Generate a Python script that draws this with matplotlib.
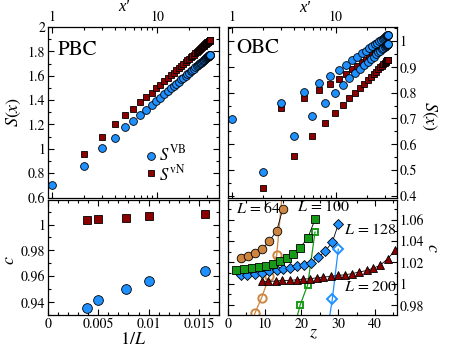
import matplotlib
matplotlib.use("Agg")
import matplotlib.pyplot as plt
from matplotlib.ticker import MultipleLocator, LogLocator, FuncFormatter, NullFormatter

plt.rcParams["font.family"] = "STIXGeneral"
plt.rcParams["mathtext.fontset"] = "stix"

# chord length x' for x = 1..50
xp = [1.000, 1.999, 2.996, 3.989, 4.979, 5.965, 6.944, 7.916, 8.881, 9.836,
      10.782, 11.718, 12.642, 13.553, 14.451, 15.335, 16.203, 17.056, 17.892, 18.710,
      19.510, 20.290, 21.050, 21.790, 22.508, 23.204, 23.877, 24.526, 25.152, 25.752,
      26.327, 26.876, 27.398, 27.894, 28.362, 28.802, 29.213, 29.596, 29.949, 30.273,
      30.567, 30.831, 31.065, 31.267, 31.439, 31.580, 31.690, 31.768, 31.815, 31.831]

# PBC entropies
s_vb_pbc = [0.700, 0.855, 1.010, 1.090, 1.175, 1.225, 1.280, 1.322, 1.359, 1.392,
            1.421, 1.448, 1.472, 1.495, 1.515, 1.534, 1.552, 1.569, 1.584, 1.598,
            1.612, 1.624, 1.636, 1.647, 1.658, 1.668, 1.677, 1.685, 1.693, 1.701,
            1.708, 1.715, 1.721, 1.727, 1.732, 1.737, 1.742, 1.746, 1.750, 1.753,
            1.756, 1.759, 1.761, 1.763, 1.765, 1.767, 1.768, 1.769, 1.769, 1.769]
# starts at x = 2
s_vn_pbc = [0.954, 1.095, 1.200, 1.275, 1.330, 1.385, 1.422, 1.461, 1.495,
            1.526, 1.554, 1.580, 1.603, 1.625, 1.645, 1.663, 1.681, 1.697, 1.712,
            1.726, 1.739, 1.751, 1.763, 1.774, 1.784, 1.794, 1.803, 1.811, 1.819,
            1.827, 1.834, 1.840, 1.846, 1.852, 1.857, 1.862, 1.866, 1.870, 1.874,
            1.877, 1.880, 1.883, 1.885, 1.887, 1.888, 1.889, 1.890, 1.890, 1.891]

# OBC entropies
s_vb_obc = [0.698, 0.493, 0.759, 0.633, 0.801, 0.710, 0.836, 0.759, 0.862, 0.797,
            0.887, 0.828, 0.907, 0.855, 0.924, 0.874, 0.938, 0.891, 0.951, 0.905,
            0.961, 0.918, 0.971, 0.929, 0.979, 0.939, 0.987, 0.947, 0.993, 0.955,
            0.999, 0.962, 1.004, 0.968, 1.008, 0.973, 1.012, 0.977, 1.015, 0.980,
            1.018, 0.983, 1.020, 0.985, 1.021, 0.987, 1.022, 0.988, 1.023, 0.988]
# starts at x = 2
s_vn_obc = [0.431, 0.740, 0.557, 0.778, 0.633, 0.809, 0.683, 0.832, 0.721,
            0.853, 0.752, 0.870, 0.778, 0.889, 0.797, 0.903, 0.817, 0.916, 0.832,
            0.926, 0.847, 0.936, 0.860, 0.944, 0.871, 0.951, 0.881, 0.958, 0.889,
            0.964, 0.897, 0.968, 0.904, 0.973, 0.909, 0.976, 0.914, 0.980, 0.918,
            0.982, 0.922, 0.984, 0.924, 0.986, 0.926, 0.987, 0.927, 0.987, 0.927]

# central charge vs 1/L
inv_L = [0.0039, 0.0050, 0.0078, 0.0100, 0.0156]
c_vn = [1.0033, 1.0040, 1.0054, 1.0064, 1.0080]
c_vb = [0.9357, 0.9419, 0.9502, 0.9564, 0.9640]

# central charge vs z (OBC)
z_64 = [3.46, 5.53, 7.35, 9.17, 11.24, 13.26, 14.89]
c_64 = [1.0245, 1.0262, 1.0285, 1.0325, 1.0400, 1.0500, 1.0700]
z_64_open = [5.53, 7.35, 9.17, 11.24, 13.26, 14.89]
c_64_open = [0.952, 0.9725, 0.987, 1.007, 1.027, 1.090]

z_100 = [2.18, 4.35, 6.45, 8.44, 10.34, 12.33, 14.15, 15.98, 17.77, 19.60, 21.69, 23.68]
c_100 = [1.0132, 1.0137, 1.0147, 1.0156, 1.0166, 1.0188, 1.0213, 1.0245, 1.0282,
         1.0339, 1.0429, 1.0605]
z_100_open = [17.77, 19.60, 21.69, 23.68]
c_100_open = [0.955, 0.9796, 0.999, 1.0486]

z_128 = [3.46, 5.25, 7.35, 9.17, 11.24, 13.26, 15.05, 16.88, 18.86, 20.69, 22.51,
         24.58, 26.40, 28.39, 30.02]
c_128 = [1.0078, 1.0085, 1.0094, 1.0104, 1.0116, 1.0125, 1.0135, 1.0147, 1.0163,
         1.0179, 1.0198, 1.0250, 1.0304, 1.0392, 1.0558]
z_128_open = [26.40, 28.39, 30.02]
c_128_open = [0.940, 0.9855, 1.0325]

z_200 = [9.17, 10.97, 12.98, 14.62, 16.88, 18.70, 20.50, 22.32, 24.14, 25.94,
         28.03, 30.02, 31.85, 33.67, 35.66, 37.75, 39.55, 41.37, 43.47, 45.45]
c_200 = [1.0022, 1.0022, 1.0025, 1.0031, 1.0031, 1.0038, 1.0044, 1.0047, 1.0056,
         1.0063, 1.0069, 1.0078, 1.0085, 1.0094, 1.0110, 1.0125, 1.0147, 1.0172,
         1.0235, 1.0313]

BLUE = "#1e90ff"
RED = "#8b0000"
ORANGE = "#cd853f"
GREEN = "#179a17"

fmt = FuncFormatter(lambda v, p: f"{v:g}")


def style(ax):
    for s in ax.spines.values():
        s.set_linewidth(0.9)
    ax.tick_params(which="both", direction="in", top=True, right=True,
                   bottom=True, left=True, labelsize=10, width=0.8, pad=2)
    ax.tick_params(which="major", length=4)
    ax.tick_params(which="minor", length=2)


def log_x(ax):
    ax.set_xscale("log")
    ax.set_xlim(0.915, 39)
    ax.xaxis.set_major_locator(LogLocator(base=10))
    ax.xaxis.set_minor_locator(LogLocator(base=10, subs=range(2, 10)))
    ax.xaxis.set_major_formatter(fmt)
    ax.xaxis.set_minor_formatter(NullFormatter())
    ax.tick_params(labeltop=True, labelbottom=False)
    ax.set_xlabel("x\u2032", fontsize=12, fontstyle="italic",
                  family=["Liberation Serif", "DejaVu Serif"], ha="center", va="center")
    ax.xaxis.set_label_position("top")


fig = plt.figure(figsize=(4.57, 3.51), dpi=100)
ax1 = fig.add_axes([0.1050, 0.4373, 0.3742, 0.4858])
ax2 = fig.add_axes([0.4989, 0.4373, 0.3698, 0.4858])
ax3 = fig.add_axes([0.1050, 0.1026, 0.3742, 0.3276])
ax4 = fig.add_axes([0.4989, 0.1026, 0.3698, 0.3276])
for ax in (ax1, ax2, ax3, ax4):
    style(ax)

circ = dict(marker="o", ls="none", ms=5.6, mec="black", mew=0.6, mfc=BLUE, clip_on=False)
sq = dict(marker="s", ls="none", ms=4.8, mec="black", mew=0.6, mfc=RED, clip_on=False)

# --- PBC
log_x(ax1)
ax1.plot(xp[1:], s_vn_pbc, **sq)
ax1.plot(xp, s_vb_pbc, **circ)
ax1.set_ylim(0.6, 2.0)
ax1.yaxis.set_major_locator(MultipleLocator(0.2))
ax1.yaxis.set_minor_locator(MultipleLocator(0.1))
ax1.yaxis.set_major_formatter(fmt)
ax1.set_ylabel(r"$S(x)$", fontsize=13, ha="center", va="center")
ax1.yaxis.set_label_coords(-0.2, 0.5)
ax1.xaxis.set_label_coords(0.44, 1.092)
ax1.text(0.058, 0.865, "PBC", transform=ax1.transAxes, fontsize=15, va="center")
ax1.plot([0.602], [0.245], transform=ax1.transAxes, **circ)
ax1.plot([0.602], [0.142], transform=ax1.transAxes, **sq)
ax1.text(0.65, 0.25, r"$S^{\mathrm{VB}}$", transform=ax1.transAxes, fontsize=12, va="center")
ax1.text(0.65, 0.135, r"$S^{\mathrm{vN}}$", transform=ax1.transAxes, fontsize=12, va="center")

# --- OBC
log_x(ax2)
ax2.plot(xp[1:], s_vn_obc, **sq)
ax2.plot(xp, s_vb_obc, **circ)
ax2.set_ylim(0.395, 1.053)
ax2.yaxis.set_major_locator(MultipleLocator(0.1))
ax2.yaxis.set_minor_locator(MultipleLocator(0.05))
ax2.yaxis.set_major_formatter(fmt)
ax2.tick_params(labelleft=False, labelright=True)
ax2.yaxis.set_label_position("right")
ax2.set_ylabel(r"$S(x)$", fontsize=13, rotation=-90, ha="center", va="center")
ax2.yaxis.set_label_coords(1.19, 0.48)
ax2.xaxis.set_label_coords(0.456, 1.085)
ax2.text(0.051, 0.877, "OBC", transform=ax2.transAxes, fontsize=15, va="center")

# --- c vs 1/L
ax3.plot(inv_L, c_vn, marker="s", ls="none", ms=6, mec="black", mew=0.6, mfc=RED)
ax3.plot(inv_L, c_vb, marker="o", ls="none", ms=7, mec="black", mew=0.6, mfc=BLUE)
ax3.set_xlim(0, 0.017)
ax3.set_ylim(0.93, 1.019)
ax3.xaxis.set_major_locator(MultipleLocator(0.005))
ax3.xaxis.set_minor_locator(MultipleLocator(0.001))
ax3.yaxis.set_major_locator(MultipleLocator(0.02))
ax3.yaxis.set_minor_locator(MultipleLocator(0.01))
ax3.xaxis.set_major_formatter(fmt)
ax3.yaxis.set_major_formatter(fmt)
ax3.set_xlabel(r"$1/L$", fontsize=13, ha="center", va="center")
ax3.xaxis.set_label_coords(0.497, -0.22)
ax3.set_ylabel(r"$c$", fontsize=13, ha="center", va="center")
ax3.yaxis.set_label_coords(-0.22, 0.48)

# --- c vs z
ax4.plot(z_64_open, c_64_open, marker="o", color=ORANGE, mfc="none", mew=1.4, ms=6, lw=0.9)
ax4.plot(z_100_open, c_100_open, marker="s", color=GREEN, mfc="none", mew=1.4, ms=5, lw=0.9)
ax4.plot(z_128_open, c_128_open, marker="D", color=BLUE, mfc="none", mew=1.4, ms=5, lw=0.9)
filled_kw = dict(color="black", lw=0.6, mec="black", mew=0.6)
ax4.plot(z_200, c_200, marker="^", ms=6, mfc=RED, **filled_kw)
ax4.plot(z_128, c_128, marker="D", ms=4.6, mfc=BLUE, **filled_kw)
ax4.plot(z_100, c_100, marker="s", ms=5.2, mfc=GREEN, **filled_kw)
ax4.plot(z_64, c_64, marker="o", ms=6.2, mfc=ORANGE, **filled_kw)
ax4.set_xlim(0, 46)
ax4.set_ylim(0.9706, 1.0788)
ax4.xaxis.set_major_locator(MultipleLocator(10))
ax4.xaxis.set_minor_locator(MultipleLocator(5))
ax4.yaxis.set_major_locator(MultipleLocator(0.02))
ax4.yaxis.set_minor_locator(MultipleLocator(0.01))
ax4.xaxis.set_major_formatter(fmt)
ax4.yaxis.set_major_formatter(fmt)
ax4.tick_params(labelleft=False, labelright=True)
ax4.yaxis.set_label_position("right")
ax4.set_ylabel(r"$c$", fontsize=13, rotation=-90, ha="center", va="center")
ax4.yaxis.set_label_coords(1.21, 0.58)
ax4.set_xlabel(r"$z$", fontsize=13, ha="center", va="center")
ax4.xaxis.set_label_coords(0.503, -0.16)
for lbl, x, y in [("$L$ = 64", 0.047, 0.93), ("$L$ = 100", 0.408, 0.94),
                  ("$L$ = 128", 0.686, 0.74), ("$L$ = 200", 0.686, 0.243)]:
    ax4.text(x, y, lbl, transform=ax4.transAxes, fontsize=11.5, va="center")

fig.savefig("out.png", dpi=100)
